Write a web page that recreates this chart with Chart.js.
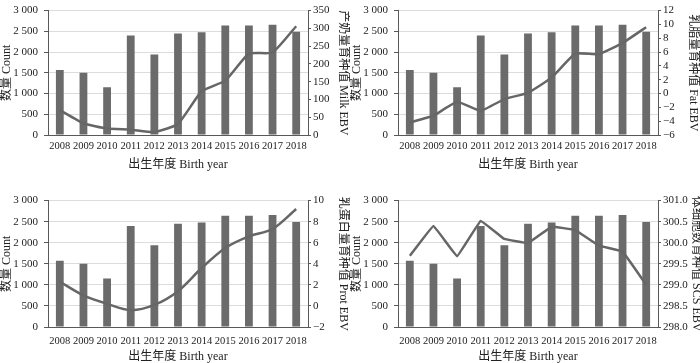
<!DOCTYPE html>
<html>
<head>
<meta charset="utf-8">
<script src="https://cdn.jsdelivr.net/npm/chart.js@4"></script>
<style>
  html, body { margin: 0; padding: 0; background: #fff; }
  body { width: 700px; height: 363px; position: relative; overflow: hidden; }
  .panel { position: absolute; width: 350px; }
  .panel canvas { display: block; }
</style>
</head>
<body>
<div class="panel" style="left:0;top:-2px;height:174px"><canvas id="milk"></canvas></div>
<div class="panel" style="left:350px;top:-2px;height:174px"><canvas id="fat"></canvas></div>
<div class="panel" style="left:0;top:188px;height:176px"><canvas id="prot"></canvas></div>
<div class="panel" style="left:350px;top:188px;height:176px"><canvas id="scs"></canvas></div>
<script>
const years = ['2008', '2009', '2010', '2011', '2012', '2013', '2014', '2015', '2016', '2017', '2018'];
const counts = [1570, 1500, 1150, 2400, 1940, 2450, 2480, 2640, 2640, 2660, 2490];
const milkEbv = [70, 33, 18, 15, 8, 31, 123, 153, 229, 232, 306];
const fatEbv = [-4.2, -3.2, -1.2, -2.5, -0.8, 0.1, 2.3, 5.8, 5.7, 7.3, 9.6];
const protEbv = [2.3, 1.0, 0.2, -0.4, 0.1, 1.4, 3.6, 5.5, 6.6, 7.3, 9.2];
const scsEbv = [299.69, 300.40, 299.68, 300.52, 300.09, 299.99, 300.38, 300.30, 299.93, 299.79, 299.0];

const FONT = "'Liberation Serif', 'Noto Sans CJK SC', serif";
const AXIS = '#595959';
const TEXT = '#222';

// "3 000" style thousands
function spaced(v) {
  return String(v).replace(/\B(?=(\d{3})+(?!\d))/g, ' ');
}

function makePanel(id, title, values, min, max, step, decimals, tension, titleShift, tickPad) {
  new Chart(document.getElementById(id), {
    data: {
      labels: years,
      datasets: [
        {
          type: 'line',
          label: title,
          data: values,
          yAxisID: 'y1',
          borderColor: '#666666',
          borderWidth: 2.5,
          pointRadius: 0,
          tension: tension
        },
        {
          type: 'bar',
          label: 'Count',
          data: counts,
          yAxisID: 'y',
          backgroundColor: '#6b6b6b',
          barPercentage: 0.33,
          categoryPercentage: 1
        }
      ]
    },
    options: {
      responsive: true,
      maintainAspectRatio: false,
      animation: false,
      layout: { padding: 0 },
      plugins: { legend: { display: false }, tooltip: { enabled: false } },
      scales: {
        x: {
          grid: { display: false, drawTicks: false },
          border: { display: true, color: AXIS, width: 1 },
          ticks: {
            color: TEXT, autoSkip: false, maxRotation: 0, padding: tickPad,
            font: { family: FONT, size: 10.5 }
          },
          title: {
            display: true, text: '出生年度 Birth year', color: TEXT,
            padding: 0, font: { family: FONT, size: 12 }
          },
          afterFit: s => { s.height = 37; }
        },
        y: {
          position: 'left',
          min: 0, max: 3000,
          ticks: {
            stepSize: 500, autoSkip: false, color: TEXT, padding: 6,
            font: { family: FONT, size: 11 },
            callback: v => spaced(v)
          },
          grid: { color: '#dcdcdc', tickLength: 4, tickColor: AXIS },
          border: { color: AXIS, width: 1 },
          title: {
            display: true, text: '数量 Count', color: TEXT,
            padding: 0, font: { family: FONT, size: 12 }
          },
          afterFit: s => { s.width = 48; }
        },
        y1: {
          position: 'right',
          min: min, max: max,
          ticks: {
            stepSize: step, autoSkip: false, color: TEXT, padding: 2,
            font: { family: FONT, size: 11 },
            callback: v => v < 0 ? '\u2212' + Math.abs(v).toFixed(decimals) : Number(v).toFixed(decimals)
          },
          grid: { drawOnChartArea: false, tickLength: 3, tickColor: AXIS },
          border: { color: AXIS, width: 1 },
          title: {
            display: true, text: title, color: TEXT,
            padding: { top: titleShift, bottom: 0 }, font: { family: FONT, size: 12 }
          },
          afterFit: s => { s.width = 42; }
        }
      }
    }
  });
}

makePanel('milk', '产奶量育种值 Milk EBV', milkEbv, 0, 350, 50, 0, 0.15, 0, 5);
makePanel('fat', '乳脂量育种值 Fat EBV', fatEbv, -6, 12, 2, 0, 0.1, 0, 5);
makePanel('prot', '乳蛋白量育种值 Prot EBV', protEbv, -2, 10, 2, 0, 0.3, 0, 8);
makePanel('scs', '体细胞数育种值 SCS EBV', scsEbv, 298, 301, 0.5, 1, 0.05, -3, 8);
</script>
</body>
</html>
